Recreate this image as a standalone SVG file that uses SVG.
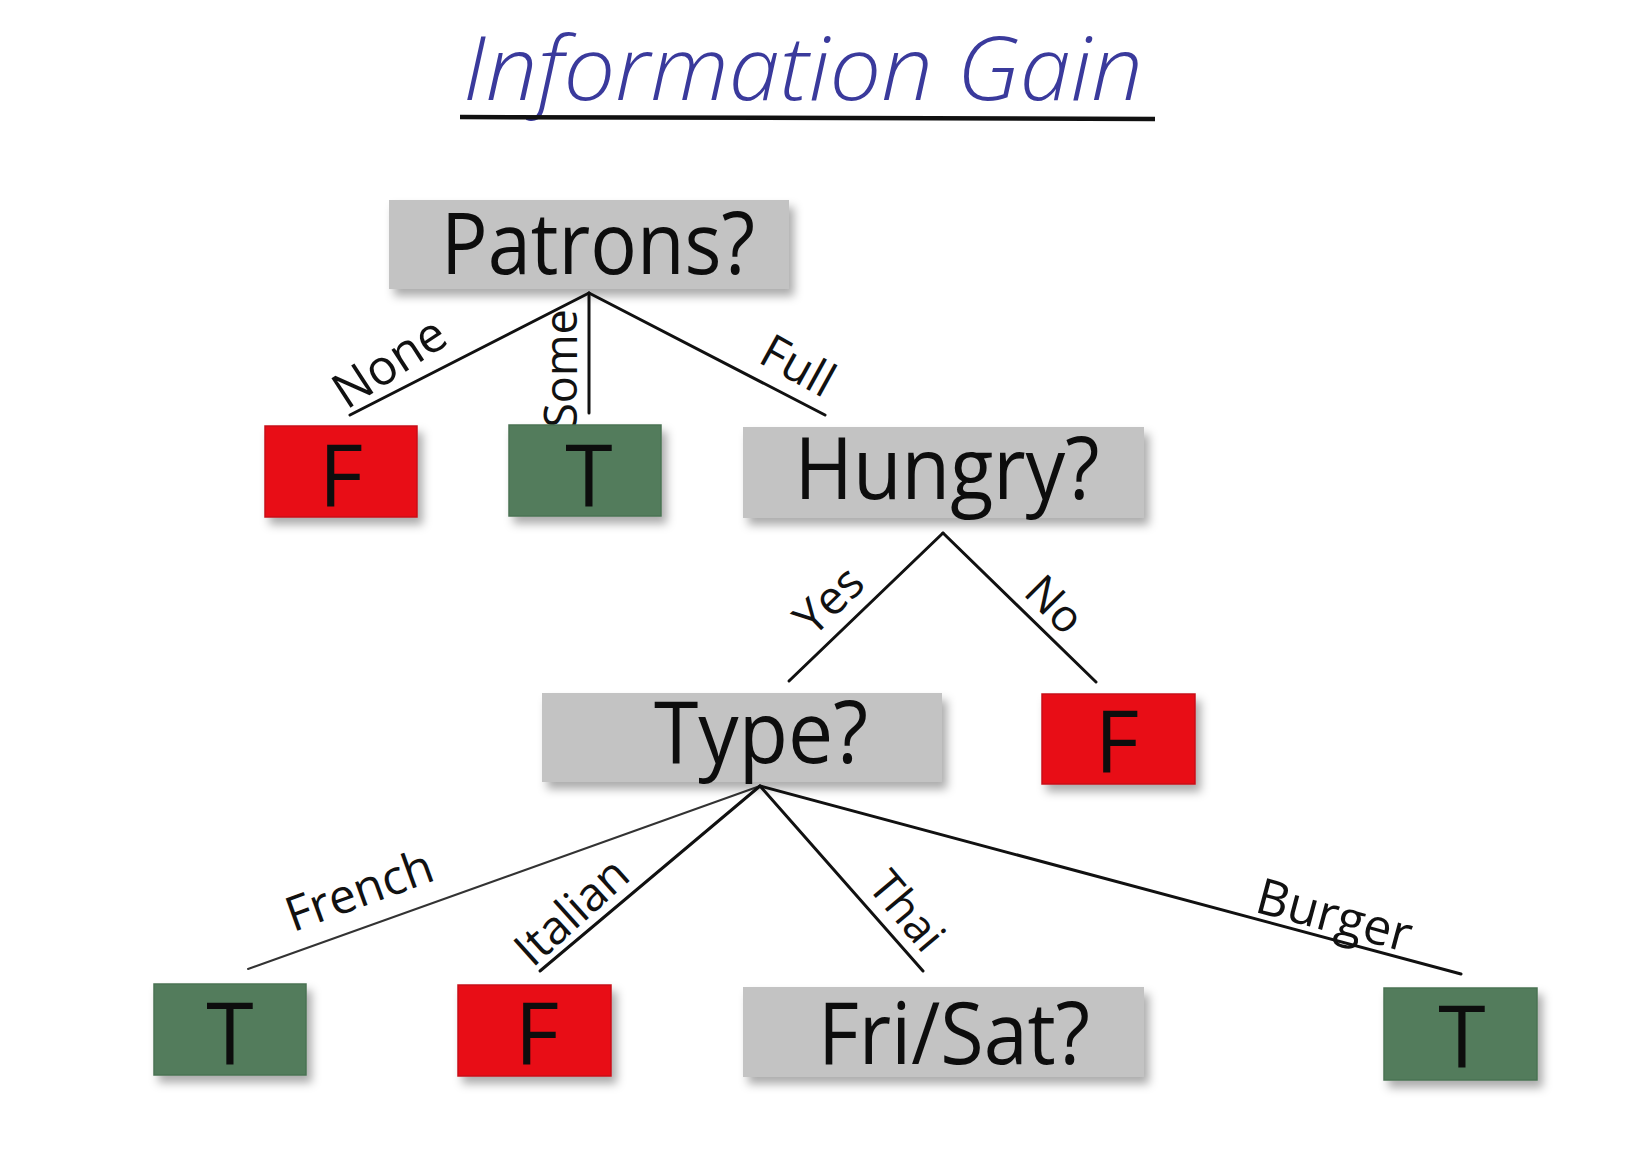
<svg xmlns="http://www.w3.org/2000/svg" width="1628" height="1150" viewBox="0 0 1628 1150">
  <defs>
    <filter id="shadow" x="-10%" y="-15%" width="125%" height="145%">
      <feDropShadow dx="5" dy="7" stdDeviation="5" flood-color="#000" flood-opacity="0.33"/>
    </filter>
    <style>
      .q { fill: #c3c3c3; filter: url(#shadow); }
      .no { fill: #e80b18; stroke: #c8101a; stroke-width: 1.5; filter: url(#shadow); }
      .yes { fill: #527c5b; stroke: #4a7253; stroke-width: 1.5; filter: url(#shadow); }
      .big { font-family: "Open Sans", "Noto Sans", "Liberation Sans", sans-serif; font-size: 86px; font-weight: 500; fill: #0d0d0d; text-anchor: middle; }
      .edge { stroke: #111; stroke-width: 3; stroke-linecap: round; fill: none; }
      .lbl { font-family: "Open Sans", "Noto Sans", "Liberation Sans", sans-serif; font-size: 47px; fill: #111; text-anchor: middle; }
      .title { font-family: "Open Sans", "Noto Sans", "Liberation Sans", sans-serif; font-style: italic; font-weight: 300; font-size: 88px; fill: #3a3a9c; }
    </style>
  </defs>

  <rect width="1628" height="1150" fill="#ffffff"/>

  <!-- heading -->
  <g id="title">
    <text class="title" x="463" y="100" textLength="680" lengthAdjust="spacingAndGlyphs">Information Gain</text>
    <line x1="460" y1="117" x2="1155" y2="119" stroke="#111" stroke-width="4.5"/>
  </g>

  <!-- branches and their labels -->
  <g id="connectors">
    <line class="edge" x1="589" y1="293" x2="350" y2="415"/>
    <line class="edge" x1="589" y1="293" x2="589" y2="413"/>
    <line class="edge" x1="589" y1="293" x2="825" y2="415"/>
    <line class="edge" x1="943" y1="533" x2="789" y2="681"/>
    <line class="edge" x1="943" y1="533" x2="1096" y2="682"/>
    <line class="edge" x1="760" y1="786" x2="248" y2="969" style="stroke:#333;stroke-width:2"/>
    <line class="edge" x1="760" y1="786" x2="540" y2="971"/>
    <line class="edge" x1="760" y1="786" x2="923" y2="971"/>
    <line class="edge" x1="760" y1="786" x2="1461" y2="974"/>

    <text class="lbl" transform="translate(398.5 376.5) rotate(-33)" style="font-size:49px">None</text>
    <text class="lbl" transform="translate(577 368.5) rotate(-90)" style="font-size:45px">Some</text>
    <text class="lbl" transform="translate(790 380) rotate(29)">Full</text>
    <text class="lbl" transform="translate(840 612) rotate(-44)">Yes</text>
    <text class="lbl" transform="translate(1043.5 615.5) rotate(45)" style="font-size:45px">No</text>
    <text class="lbl" transform="translate(365 906) rotate(-20)" style="font-size:48px">French</text>
    <text class="lbl" transform="translate(582.5 923.5) rotate(-42)">Italian</text>
    <text class="lbl" transform="translate(895 921) rotate(50)" style="font-size:45px">Thai</text>
    <text class="lbl" transform="translate(1330 932) rotate(15)" style="font-size:50px">Burger</text>
  </g>

  <!-- decision nodes -->
  <g id="patrons">
    <rect class="q" x="389" y="200" width="400" height="89"/>
    <text class="big" x="598" y="274" textLength="314" lengthAdjust="spacingAndGlyphs">Patrons?</text>
  </g>
  <g id="hungry">
    <rect class="q" x="743" y="427" width="401" height="91"/>
    <text class="big" x="947" y="499" textLength="305" lengthAdjust="spacingAndGlyphs">Hungry?</text>
  </g>
  <g id="type">
    <rect class="q" x="542" y="693" width="400" height="89"/>
    <text class="big" x="761" y="763" textLength="214" lengthAdjust="spacingAndGlyphs">Type?</text>
  </g>
  <g id="frisat">
    <rect class="q" x="743" y="987" width="401" height="90"/>
    <text class="big" x="954" y="1064" textLength="272" lengthAdjust="spacingAndGlyphs">Fri/Sat?</text>
  </g>

  <!-- leaves -->
  <g id="leaf-none">
    <rect class="no" x="265" y="426" width="152" height="91"/>
    <text class="big" x="341" y="506">F</text>
  </g>
  <g id="leaf-some">
    <rect class="yes" x="509" y="425" width="152" height="91"/>
    <text class="big" x="589" y="506">T</text>
  </g>
  <g id="leaf-no">
    <rect class="no" x="1042" y="694" width="153" height="90"/>
    <text class="big" x="1117" y="772">F</text>
  </g>
  <g id="leaf-french">
    <rect class="yes" x="154" y="984" width="152" height="91"/>
    <text class="big" x="230" y="1064">T</text>
  </g>
  <g id="leaf-italian">
    <rect class="no" x="458" y="985" width="153" height="91"/>
    <text class="big" x="537" y="1064">F</text>
  </g>
  <g id="leaf-burger">
    <rect class="yes" x="1384" y="988" width="153" height="92"/>
    <text class="big" x="1462" y="1067">T</text>
  </g>
</svg>
